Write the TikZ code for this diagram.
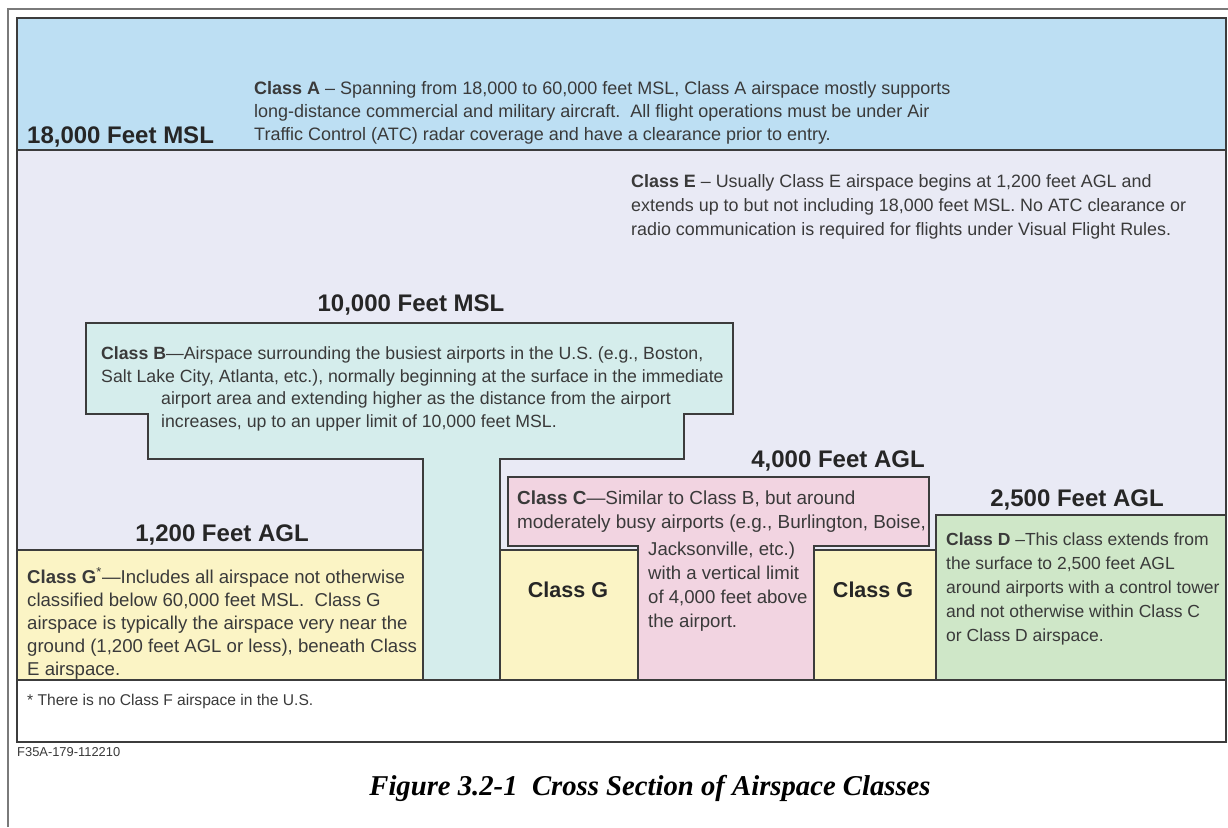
\documentclass[tikz,border=0pt]{standalone}
\usepackage{fontspec}
\setmainfont{Liberation Sans}
\newfontfamily\capfont{Liberation Serif}
\definecolor{clA}{HTML}{BDDFF3}
\definecolor{clE}{HTML}{E9EAF5}
\definecolor{clB}{HTML}{D5EDEC}
\definecolor{clC}{HTML}{F2D4E1}
\definecolor{clG}{HTML}{FBF4C5}
\definecolor{clD}{HTML}{CFE7C8}
\definecolor{edge}{HTML}{3C3C3C}
\definecolor{ink}{HTML}{3A3A3A}
\definecolor{framegray}{HTML}{7A7A7A}
\newcommand{\bodysize}[2]{\fontsize{#1}{#2}\selectfont}
\begin{document}
\begin{tikzpicture}[x=1pt,y=-1pt,
  zone/.style={draw=edge, line width=1.6pt, line join=miter},
  body/.style={text=ink, align=left, inner sep=0pt, anchor=base west},
  alt/.style={font=\bfseries\fontsize{24}{28}\selectfont, text=black!85, inner sep=0pt, anchor=base},
  gbox/.style={font=\bfseries\fontsize{21.5}{24}\selectfont, text=black!85, inner sep=0pt}]
\useasboundingbox (0,0) rectangle (1228,827);
\fill[white] (0,0) rectangle (1228,827);
% outer frame
\draw[framegray, line width=2.5pt] (8,827) -- (8,9) -- (1228,9);
% zones
\fill[clA] (17,18) rectangle (1226,150);
\fill[clE] (17,150) rectangle (1226,680);
\fill[white] (17,680) rectangle (1226,742);
\draw[zone, fill=clB] (86,323) -- (733,323) -- (733,414) -- (684,414) -- (684,459) -- (500,459)
  -- (500,680) -- (423,680) -- (423,459) -- (148,459) -- (148,414) -- (86,414) -- cycle;
\draw[zone, fill=clG] (17,550) rectangle (423,680);
\draw[zone, fill=clG] (500,550) rectangle (638,680);
\draw[zone, fill=clG] (814,550) rectangle (936,680);
\draw[zone, fill=clC] (508,477) -- (929,477) -- (929,546) -- (814,546) -- (814,680) -- (638,680)
  -- (638,546) -- (508,546) -- cycle;
\draw[zone, fill=clD] (936,515) rectangle (1226,680);
\draw[zone] (17,150) -- (1226,150);
\draw[zone] (17,680) -- (1226,680);
\draw[edge, line width=2pt] (17,18) rectangle (1226,742);
% altitude labels
\node[alt, anchor=base west] (a18) at (27,143) {18,000 Feet MSL};
\node[alt] (a10) at (411,311) {10,000 Feet MSL};
\node[alt] (a4) at (838,467) {4,000 Feet AGL};
\node[alt] (a25) at (1077,506) {2,500 Feet AGL};
\node[alt] (a12) at (222,541) {1,200 Feet AGL};
% class texts (anchored at baseline of last line)
\node[body, font=\bodysize{18}{23}] (tA) at (254,140) {\textbf{Class A} – Spanning from 18,000 to 60,000 feet MSL, Class A airspace mostly supports\\
long-distance commercial and military aircraft.\ \ All flight operations must be under Air\\
Traffic Control (ATC) radar coverage and have a clearance prior to entry.};
\node[body, font=\bodysize{17.9}{24}] (tE) at (631,235) {\textbf{Class E} – Usually Class E airspace begins at 1,200 feet AGL and\\
extends up to but not including 18,000 feet MSL. No ATC clearance or\\
radio communication is required for flights under Visual Flight Rules.};
\node[body, font=\bodysize{17.7}{22.7}] (tB1) at (101,382) {\textbf{Class B}—Airspace surrounding the busiest airports in the U.S. (e.g., Boston,\\
Salt Lake City, Atlanta, etc.), normally beginning at the surface in the immediate};
\node[body, font=\bodysize{17.7}{22.7}] (tB2) at (161,427) {airport area and extending higher as the distance from the airport\\
increases, up to an upper limit of 10,000 feet MSL.};
\node[body, font=\bodysize{18.9}{24}] (tC1) at (517,528) {\textbf{Class C}—Similar to Class B, but around\\
moderately busy airports (e.g., Burlington, Boise,};
\node[body, font=\bodysize{18.6}{24}] (tC2) at (648,627) {Jacksonville, etc.)\\
with a vertical limit\\
of 4,000 feet above\\
the airport.};
\node[body, font=\bodysize{17.5}{24}] (tD) at (946,641) {\textbf{Class D} –This class extends from\\
the surface to 2,500 feet AGL\\
around airports with a control tower\\
and not otherwise within Class C\\
or Class D airspace.};
\node[body, font=\bodysize{18.6}{23}] (tG) at (27,675) {\textbf{Class G}\textsuperscript{*}—Includes all airspace not otherwise\\
classified below 60,000 feet MSL.\ \ Class G\\
airspace is typically the airspace very near the\\
ground (1,200 feet AGL or less), beneath Class\\
E airspace.};
\node[gbox] (g2) at (568,590) {Class G};
\node[gbox] (g3) at (873,590) {Class G};
% footnote, id, caption
\node[font=\fontsize{15.6}{18}\selectfont, text=ink, inner sep=0pt, anchor=west] (fn) at (27,701) {* There is no Class F airspace in the U.S.};
\node[font=\fontsize{12.9}{15}\selectfont, text=ink, inner sep=0pt, anchor=west] (id) at (17,752) {F35A-179-112210};
\node[font=\capfont\bfseries\itshape\fontsize{28.7}{32}\selectfont, inner sep=0pt] (cap) at (650,788) {Figure 3.2-1\ \ Cross Section of Airspace Classes};
\end{tikzpicture}
\end{document}
